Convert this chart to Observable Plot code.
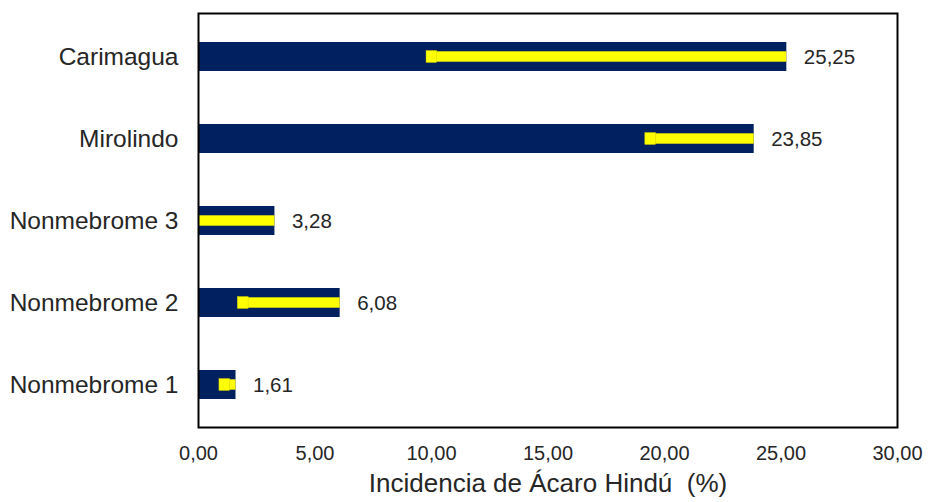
<!DOCTYPE html>
<html>
<head>
<meta charset="utf-8">
<script src="https://cdn.jsdelivr.net/npm/d3@7"></script>
<script src="https://cdn.jsdelivr.net/npm/@observablehq/plot@0.6"></script>
<style>
  html, body { margin: 0; padding: 0; background: #fff; }
  #chart svg { display: block; }
</style>
</head>
<body>
<div id="chart"></div>
<script>
// Incidencia de Ácaro Hindú por material (%), con barra de error hacia abajo
const materiales = ["Carimagua", "Mirolindo", "Nonmebrome 3", "Nonmebrome 2", "Nonmebrome 1"];
const incidencia = [25.25, 23.85, 3.28, 6.08, 1.61];
const errorInferior = [15.46, 4.67, 3.28, 4.38, 0.71];
const ticksX = [0, 5, 10, 15, 20, 25, 30];
const tituloX = "Incidencia de Ácaro Hindú\u00a0 (%)";

const datos = materiales.map((m, i) => ({
  material: m,
  valor: incidencia[i],
  lo: Math.max(0, incidencia[i] - errorInferior[i])
}));

const coma = d => d.toFixed(2).replace(".", ",");

const chart = Plot.plot({
  width: 928,
  height: 502,
  marginLeft: 198,
  marginRight: 31,
  marginTop: 13,
  marginBottom: 75,
  style: { fontFamily: "'Liberation Sans', Arial, sans-serif", color: "#262626", background: "#fff" },
  x: { domain: [0, 30], ticks: ticksX, tickFormat: coma, label: null },
  y: { domain: materiales, paddingInner: 0.65, paddingOuter: 0.325, label: null },
  marks: [
    Plot.barX(datos, { x1: 0, x2: "valor", y: "material", fill: "#002060" }),
    Plot.barX(datos, { x1: "lo", x2: "valor", y: "material", fill: "#ffff00", insetTop: 9.3, insetBottom: 9.3 }),
    Plot.barX(datos.filter(d => d.lo > 0), {
      x1: "lo", x2: d => d.lo + 0.45, y: "material",
      fill: "#ffff00", stroke: "#d6d600", strokeWidth: 0.5, insetTop: 8.6, insetBottom: 8.6
    }),
    Plot.text(datos, {
      x: "valor", y: "material", text: d => coma(d.valor),
      dx: 17, textAnchor: "start", fontSize: 20.5, fill: "#262626"
    }),
    Plot.axisX({ ticks: ticksX, tickFormat: coma, tickSize: 0, tickPadding: 18, fontSize: 20, label: null }),
    Plot.axisY({ tickSize: 0, tickPadding: 20, fontSize: 24.5, label: null }),
    Plot.text([tituloX], { frameAnchor: "bottom", dy: 64, fontSize: 26, fill: "#262626" }),
    Plot.frame({ stroke: "#000", strokeWidth: 2 })
  ]
});

document.getElementById("chart").append(chart);
</script>
</body>
</html>
